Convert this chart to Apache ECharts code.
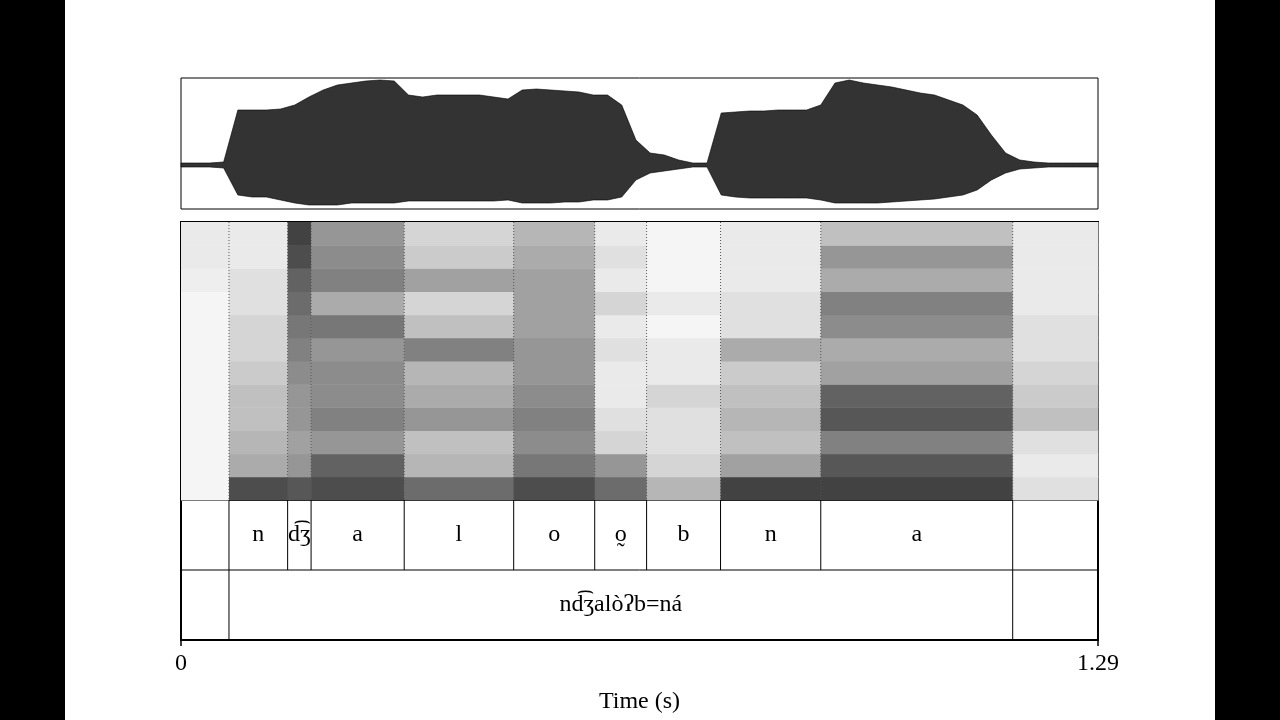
<!DOCTYPE html>
<html><head><meta charset="utf-8">
<script src="https://cdn.jsdelivr.net/npm/echarts@6/dist/echarts.min.js"></script>
<style>
html,body{margin:0;padding:0;background:#000;width:1280px;height:720px;overflow:hidden}
#chart{position:absolute;left:65px;top:0;width:1150px;height:720px;background:#fff}
</style></head><body>
<div id="chart"></div>
<script>
// waveform envelope, one value per 0.02 s, from t = 0
const waveTimes = [0,0.02,0.04,0.06,0.08,0.10,0.12,0.14,0.16,0.18,0.20,0.22,0.24,0.26,0.28,0.30,0.32,0.34,0.36,0.38,0.40,0.42,0.44,0.46,0.48,0.50,0.52,0.54,0.56,0.58,0.60,0.62,0.64,0.66,0.68,0.70,0.72,0.74,0.76,0.78,0.80,0.82,0.84,0.86,0.88,0.90,0.92,0.94,0.96,0.98,1.00,1.02,1.04,1.06,1.08,1.10,1.12,1.14,1.16,1.18,1.20,1.22,1.24,1.26,1.29];
const waveUp = [2,2,2,3,55,55,55,56,60,68,75,80,82,84,85,84,70,68,70,70,70,70,68,66,75,76,75,74,73,70,70,60,25,12,10,5,2,2,52,53,54,54,55,55,55,60,82,85,82,80,78,75,72,70,65,60,50,30,12,5,3,2,2,2,2];
const waveDown = [-2,-2,-2,-3,-30,-32,-32,-35,-38,-40,-40,-40,-38,-38,-38,-38,-36,-36,-36,-36,-36,-36,-36,-35,-38,-38,-38,-37,-37,-35,-35,-32,-15,-8,-6,-4,-2,-2,-30,-32,-33,-33,-33,-33,-33,-35,-38,-38,-38,-38,-37,-36,-35,-34,-32,-30,-25,-15,-8,-4,-3,-2,-2,-2,-2];

// segment tier
const segBounds = [0, 0.0675, 0.150, 0.183, 0.314, 0.468, 0.582, 0.655, 0.759, 0.900, 1.170, 1.29];
const segLabels = ['', 'n', 'd͡ʒ', 'a', 'l', 'o', 'o̰', 'b', 'n', 'a', ''];
// word tier
const wordBounds = [0, 0.0675, 1.170, 1.29];
const wordLabels = ['', 'nd͡ʒalòʔb=ná', ''];

// spectrogram darkness (0..1), one column per segment, rows low → high frequency
const specRows = 12;
const specCols = [
  [.05,.05,.05,.05,.05,.05,.05,.05,.05,.08,.1,.1],
  [.85,.4,.35,.3,.3,.25,.2,.2,.15,.15,.1,.1],
  [.8,.5,.45,.5,.5,.55,.6,.65,.7,.75,.85,.9],
  [.85,.75,.5,.6,.55,.55,.5,.65,.4,.6,.55,.5],
  [.7,.35,.3,.5,.4,.35,.6,.3,.2,.45,.25,.2],
  [.85,.65,.55,.6,.55,.5,.5,.45,.45,.45,.4,.35],
  [.7,.5,.2,.15,.1,.1,.15,.1,.2,.1,.15,.1],
  [.35,.2,.15,.15,.2,.1,.1,.05,.1,.05,.05,.05],
  [.9,.45,.3,.35,.3,.25,.4,.15,.15,.1,.1,.1],
  [.9,.8,.6,.8,.75,.45,.4,.55,.6,.4,.5,.3],
  [.15,.1,.15,.3,.25,.2,.15,.15,.1,.1,.1,.1]
];

const chart = echarts.init(document.getElementById('chart'));
const L = 116, W = 917;
const font = 'Liberation Serif';

const specData = [];
specCols.forEach((col, i) => col.forEach((v, r) => specData.push([segBounds[i], segBounds[i + 1], r, r + 1, v])));

const segBoundData = segBounds.slice(1, -1).map(t => [t, 1]);
const wordBoundData = wordBounds.slice(1, -1).map(t => [t, 0]);
const labelData = segLabels.map((s, i) => [(segBounds[i] + segBounds[i + 1]) / 2, 1.5, s])
  .concat(wordLabels.map((s, i) => [(wordBounds[i] + wordBounds[i + 1]) / 2, 0.5, s]));

const xBase = {min: 0, max: 1.29, show: false};

chart.setOption({
  animation: false,
  grid: [
    {left: L, width: W, top: 78, height: 131, show: true, borderColor: '#000', borderWidth: 1},
    {left: L, width: W, top: 222, height: 278, show: true, borderColor: '#000', borderWidth: 2},
    {left: L, width: W, top: 500, height: 140, show: true, borderColor: '#000', borderWidth: 2}
  ],
  xAxis: [
    Object.assign({type: 'value', gridIndex: 0}, xBase),
    Object.assign({type: 'value', gridIndex: 1}, xBase),
    {type: 'value', gridIndex: 2, min: 0, max: 1.29, interval: 1.29,
     axisLine: {show: false}, splitLine: {show: false},
     axisTick: {show: true, length: 6, lineStyle: {color: '#000', width: 1.5}},
     axisLabel: {color: '#000', fontFamily: font, fontSize: 24, margin: 12,
       formatter: v => v === 0 ? '0' : '1.29'},
     name: 'Time (s)', nameLocation: 'middle', nameGap: 50,
     nameTextStyle: {color: '#000', fontFamily: font, fontSize: 24}}
  ],
  yAxis: [
    {type: 'value', gridIndex: 0, min: -44, max: 87, show: false},
    {type: 'value', gridIndex: 1, min: 0, max: specRows, show: false},
    {type: 'value', gridIndex: 2, min: 0, max: 2, show: false}
  ],
  series: [
    {
      type: 'custom', xAxisIndex: 1, yAxisIndex: 1, data: specData, silent: true,
      renderItem: (p, api) => {
        const a = api.coord([api.value(0), api.value(3)]);
        const b = api.coord([api.value(1), api.value(2)]);
        const g = Math.round(255 - api.value(4) * 210);
        return {type: 'rect', shape: {x: a[0], y: a[1], width: b[0] - a[0] + 0.5, height: b[1] - a[1] + 0.5},
          style: {fill: `rgb(${g},${g},${g})`}};
      }
    },
    {
      type: 'custom', xAxisIndex: 1, yAxisIndex: 1, data: segBoundData, silent: true,
      renderItem: (p, api) => {
        const a = api.coord([api.value(0), specRows]);
        const b = api.coord([api.value(0), 0]);
        return {type: 'line', shape: {x1: a[0], y1: a[1], x2: b[0], y2: b[1]},
          style: {stroke: '#555', lineWidth: 1, lineDash: [1, 2]}};
      }
    },
    {
      type: 'custom', xAxisIndex: 0, yAxisIndex: 0, data: [0], silent: true,
      renderItem: (p, api) => {
        const pts = waveTimes.map((t, i) => api.coord([t, waveUp[i]]));
        for (let i = waveTimes.length - 1; i >= 0; i--) pts.push(api.coord([waveTimes[i], waveDown[i]]));
        return {type: 'polygon', shape: {points: pts}, style: {fill: '#333', stroke: '#000', lineWidth: 0.6}};
      }
    },
    {
      type: 'custom', xAxisIndex: 2, yAxisIndex: 2, data: [[0, 1]], silent: true,
      renderItem: (p, api) => {
        const a = api.coord([0, 1]), b = api.coord([1.29, 1]);
        return {type: 'line', shape: {x1: a[0], y1: a[1], x2: b[0], y2: b[1]}, style: {stroke: '#000', lineWidth: 1}};
      }
    },
    {
      type: 'custom', xAxisIndex: 2, yAxisIndex: 2, data: segBoundData.concat(wordBoundData), silent: true,
      renderItem: (p, api) => {
        const a = api.coord([api.value(0), api.value(1) + 1]);
        const b = api.coord([api.value(0), api.value(1)]);
        return {type: 'line', shape: {x1: a[0], y1: a[1], x2: b[0], y2: b[1]}, style: {stroke: '#000', lineWidth: 1}};
      }
    },
    {
      type: 'custom', xAxisIndex: 2, yAxisIndex: 2, data: labelData, silent: true,
      renderItem: (p, api) => {
        const c = api.coord([api.value(0), api.value(1)]);
        return {type: 'text', x: c[0], y: c[1],
          style: {text: labelData[p.dataIndex][2], fill: '#000', font: `24px "${font}"`, align: 'center', verticalAlign: 'middle'}};
      }
    }
  ]
});
</script>
</body></html>
